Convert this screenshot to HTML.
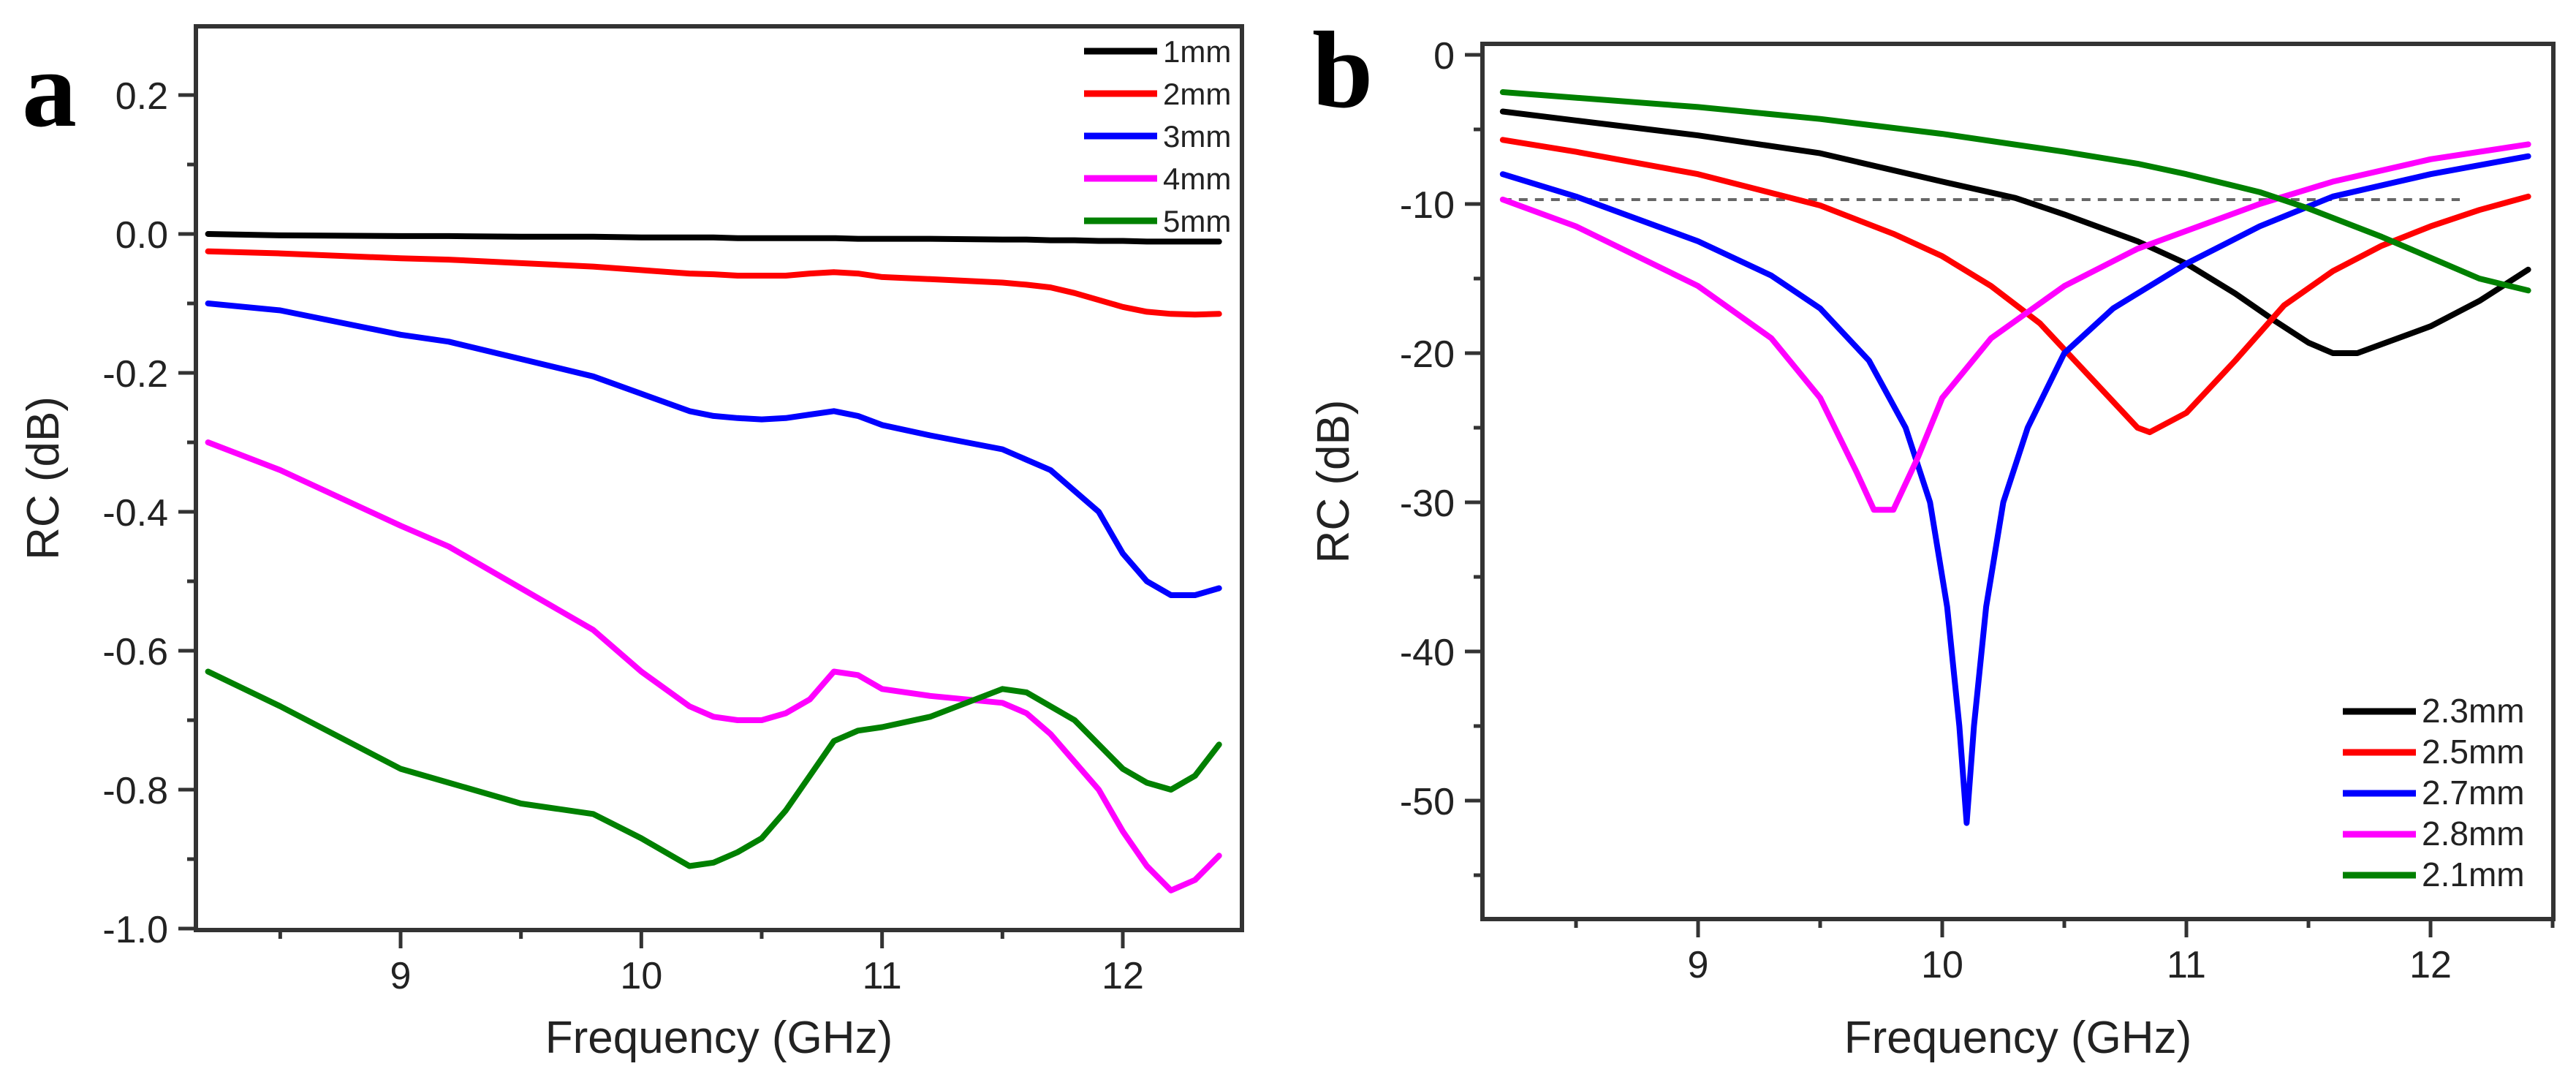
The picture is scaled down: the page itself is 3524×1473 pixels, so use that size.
<!DOCTYPE html>
<html><head><meta charset="utf-8"><style>
html,body{margin:0;padding:0;background:#fff;}
svg{display:block;font-family:"Liberation Sans",sans-serif;}
</style></head><body>
<svg id="fig" width="3524" height="1473" viewBox="0 0 3524 1473" xmlns="http://www.w3.org/2000/svg">
<text x="30" y="172" font-family="Liberation Serif,serif" font-weight="bold" font-size="150" fill="#000">a</text>
<text x="1795" y="146" font-family="Liberation Serif,serif" font-weight="bold" font-size="150" fill="#000">b</text>
<g id="pa"></g>
<g id="pb"></g>
</svg>
<script>
// Panel a data
const aX = [8.2,8.5,9,9.2,9.5,9.8,10,10.2,10.3,10.4,10.5,10.6,10.7,10.8,10.9,11,11.2,11.5,11.6,11.7,11.8,11.9,12,12.1,12.2,12.3,12.4];
const a1mm = [0,-0.002,-0.003,-0.003,-0.004,-0.004,-0.005,-0.005,-0.005,-0.006,-0.006,-0.006,-0.006,-0.006,-0.007,-0.007,-0.007,-0.008,-0.008,-0.009,-0.009,-0.01,-0.01,-0.011,-0.011,-0.011,-0.011];
const a2mm = [-0.025,-0.028,-0.035,-0.037,-0.042,-0.047,-0.052,-0.057,-0.058,-0.06,-0.06,-0.06,-0.057,-0.055,-0.057,-0.062,-0.065,-0.07,-0.073,-0.077,-0.085,-0.095,-0.105,-0.112,-0.115,-0.116,-0.115];
const a3mm = [-0.10,-0.11,-0.145,-0.155,-0.18,-0.205,-0.23,-0.255,-0.262,-0.265,-0.267,-0.265,-0.26,-0.255,-0.262,-0.275,-0.29,-0.31,-0.325,-0.34,-0.37,-0.40,-0.46,-0.50,-0.52,-0.52,-0.51];
const a4mm = [-0.30,-0.34,-0.42,-0.45,-0.51,-0.57,-0.63,-0.68,-0.695,-0.70,-0.70,-0.69,-0.67,-0.63,-0.635,-0.655,-0.665,-0.675,-0.69,-0.72,-0.76,-0.80,-0.86,-0.91,-0.945,-0.93,-0.895];
const a5mm = [-0.63,-0.68,-0.77,-0.79,-0.82,-0.835,-0.87,-0.91,-0.905,-0.89,-0.87,-0.83,-0.78,-0.73,-0.715,-0.71,-0.695,-0.655,-0.66,-0.68,-0.70,-0.735,-0.77,-0.79,-0.80,-0.78,-0.735];
const aNames = ["1mm","2mm","3mm","4mm","5mm"];
const aYTicks = [0.2,0.0,-0.2,-0.4,-0.6,-0.8,-1.0];
const aYTickLabels = ["0.2","0.0","-0.2","-0.4","-0.6","-0.8","-1.0"];
const aXTicks = [9,10,11,12];
// Panel b data
const bBlackX = [8.2,8.5,9,9.5,10,10.3,10.5,10.8,11,11.2,11.35,11.5,11.6,11.7,11.8,12,12.2,12.4];
const bBlackY = [-3.8,-4.4,-5.4,-6.6,-8.5,-9.6,-10.7,-12.5,-14,-16,-17.7,-19.3,-20,-20,-19.4,-18.2,-16.5,-14.4];
const bRedX = [8.2,8.5,9,9.5,9.8,10,10.2,10.4,10.6,10.8,10.85,11,11.2,11.4,11.6,11.8,12,12.2,12.4];
const bRedY = [-5.7,-6.5,-8.0,-10.1,-12,-13.5,-15.5,-18,-21.5,-25,-25.3,-24,-20.5,-16.8,-14.5,-12.8,-11.5,-10.4,-9.5];
const bBlueX = [8.2,8.5,9,9.3,9.5,9.7,9.85,9.95,10.02,10.07,10.1,10.13,10.18,10.25,10.35,10.5,10.7,11,11.3,11.6,12,12.4];
const bBlueY = [-8,-9.5,-12.5,-14.8,-17,-20.5,-25,-30,-37,-45,-51.5,-45,-37,-30,-25,-20,-17,-14,-11.5,-9.5,-8,-6.8];
const bMagX = [8.2,8.5,9,9.3,9.5,9.65,9.72,9.8,9.9,10,10.2,10.5,10.8,11,11.3,11.6,12,12.4];
const bMagY = [-9.7,-11.5,-15.5,-19,-23,-28,-30.5,-30.5,-27,-23,-19,-15.5,-13,-11.8,-10,-8.5,-7,-6];
const bGreenX = [8.2,9,9.5,10,10.5,10.8,11,11.3,11.5,11.8,12,12.2,12.4];
const bGreenY = [-2.5,-3.5,-4.3,-5.3,-6.5,-7.3,-8,-9.2,-10.3,-12.2,-13.6,-15,-15.8];
const bNames = ["2.3mm","2.5mm","2.7mm","2.8mm","2.1mm"];
const bYTicks = [0,-10,-20,-30,-40,-50];
const bYTickLabels = ["0","-10","-20","-30","-40","-50"];
const bXTicks = [9,10,11,12];
const bThreshold = -10;

const NS="http://www.w3.org/2000/svg";
function mk(parent,tag,attrs){const e=document.createElementNS(NS,tag);for(const k in attrs)e.setAttribute(k,attrs[k]);parent.appendChild(e);return e;}
function lin(d0,d1,r0,r1){return v=>r0+(v-d0)*(r1-r0)/(d1-d0);}

function drawPanel(g,cfg){
  const xs=lin(cfg.xd[0],cfg.xd[1],cfg.left,cfg.right);
  const ys=lin(cfg.yd[0],cfg.yd[1],cfg.y0px,cfg.y1px);
  cfg.xMinor.forEach(v=>{const t=mk(g,'line',{x1:xs(v),x2:xs(v),y1:cfg.bottom,y2:cfg.bottom+12,stroke:'#333','stroke-width':5});
    
    });
  cfg.xTicks.forEach(v=>{const t=mk(g,'line',{x1:xs(v),x2:xs(v),y1:cfg.bottom,y2:cfg.bottom+25,stroke:'#333','stroke-width':5});
    
    
    const l=mk(g,'text',{x:xs(v),y:cfg.bottom+80,'text-anchor':'middle','font-size':52,fill:'#222'});l.textContent=String(v);
    
    });
  cfg.yMinor.forEach(v=>{const t=mk(g,'line',{x1:cfg.left-12,x2:cfg.left,y1:ys(v),y2:ys(v),stroke:'#333','stroke-width':5});
    
    });
  cfg.yTicks.forEach((v,i)=>{const t=mk(g,'line',{x1:cfg.left-24,x2:cfg.left,y1:ys(v),y2:ys(v),stroke:'#333','stroke-width':5});
    
    
    const l=mk(g,'text',{x:cfg.left-38,y:ys(v)+19,'text-anchor':'end','font-size':52,fill:'#222'});l.textContent=cfg.yLabels[i];
    
    });
  const fr=mk(g,'rect',{x:cfg.left,y:cfg.top,width:cfg.right-cfg.left,height:cfg.bottom-cfg.top,fill:'none',stroke:'#333','stroke-width':6});
  
  
  if(cfg.thr!==undefined){const d=mk(g,'line',{x1:xs(8.2),x2:xs(12.12),y1:ys(cfg.thr)-6,y2:ys(cfg.thr)-6,stroke:'#666','stroke-width':4,'stroke-dasharray':'12 10'});
    
    }
  cfg.series.forEach((s,i)=>{const pts=s.x.map((xv,j)=>xs(xv).toFixed(1)+','+ys(s.y[j]).toFixed(1)).join(' ');
    const p=mk(g,'polyline',{points:pts,fill:'none',stroke:s.c,'stroke-width':8,'stroke-linejoin':'round','stroke-linecap':'round'});
    
    
    const ly=cfg.legY+i*cfg.legDy;
    const ll=mk(g,'line',{x1:cfg.legX,x2:cfg.legX+100,y1:ly,y2:ly,stroke:s.c,'stroke-width':9});
    
    
    const lt=mk(g,'text',{x:cfg.legX+108,y:ly+15,'font-size':cfg.legFont,fill:'#222'});lt.textContent=s.n;
    
    });
  const xt=mk(g,'text',{x:(cfg.left+cfg.right)/2,y:1440,'text-anchor':'middle','font-size':62,fill:'#222'});xt.textContent='Frequency (GHz)';
  
  
  const yt=mk(g,'text',{x:0,y:0,'text-anchor':'middle','font-size':62,fill:'#222',transform:`translate(${cfg.ytx},${(cfg.top+cfg.bottom)/2}) rotate(-90)`});yt.textContent='RC (dB)';
  
  
}
(function(){
  const aLeftVal=9-(548-268)/329.3, aRightVal=12+(1699-1536)/329.3;
  drawPanel(document.getElementById('pa'),{
    left:268,right:1699,top:36,bottom:1272,xd:[aLeftVal,aRightVal],yd:[0,-1],y0px:320,y1px:1270,
    xTicks:aXTicks,xMinor:[8.5,9.5,10.5,11.5],yTicks:aYTicks,yLabels:aYTickLabels,yMinor:[0.1,-0.1,-0.3,-0.5,-0.7,-0.9],
    legX:1483,legY:70,legDy:58,legFont:42,ytx:80,
    series:[{x:aX,y:a1mm,c:'#000',n:aNames[0]},{x:aX,y:a2mm,c:'#ff0000',n:aNames[1]},{x:aX,y:a3mm,c:'#0000ff',n:aNames[2]},{x:aX,y:a4mm,c:'#ff00ff',n:aNames[3]},{x:aX,y:a5mm,c:'#008000',n:aNames[4]}]
  });
  const bLeftVal=9-(2323-2028)/334, bRightVal=12+(3493-3325)/334;
  drawPanel(document.getElementById('pb'),{
    left:2028,right:3493,top:60,bottom:1257,xd:[bLeftVal,bRightVal],yd:[0,-50],y0px:75,y1px:1095,
    xTicks:bXTicks,xMinor:[8.5,9.5,10.5,11.5,12.5],yTicks:bYTicks,yLabels:bYTickLabels,yMinor:[-5,-15,-25,-35,-45,-55],
    legX:3205,legY:973,legDy:56,legFont:46,ytx:1845,thr:bThreshold,
    series:[{x:bBlackX,y:bBlackY,c:'#000',n:bNames[0]},{x:bRedX,y:bRedY,c:'#ff0000',n:bNames[1]},{x:bBlueX,y:bBlueY,c:'#0000ff',n:bNames[2]},{x:bMagX,y:bMagY,c:'#ff00ff',n:bNames[3]},{x:bGreenX,y:bGreenY,c:'#008000',n:bNames[4]}]
  });
})();
</script>
</body></html>
